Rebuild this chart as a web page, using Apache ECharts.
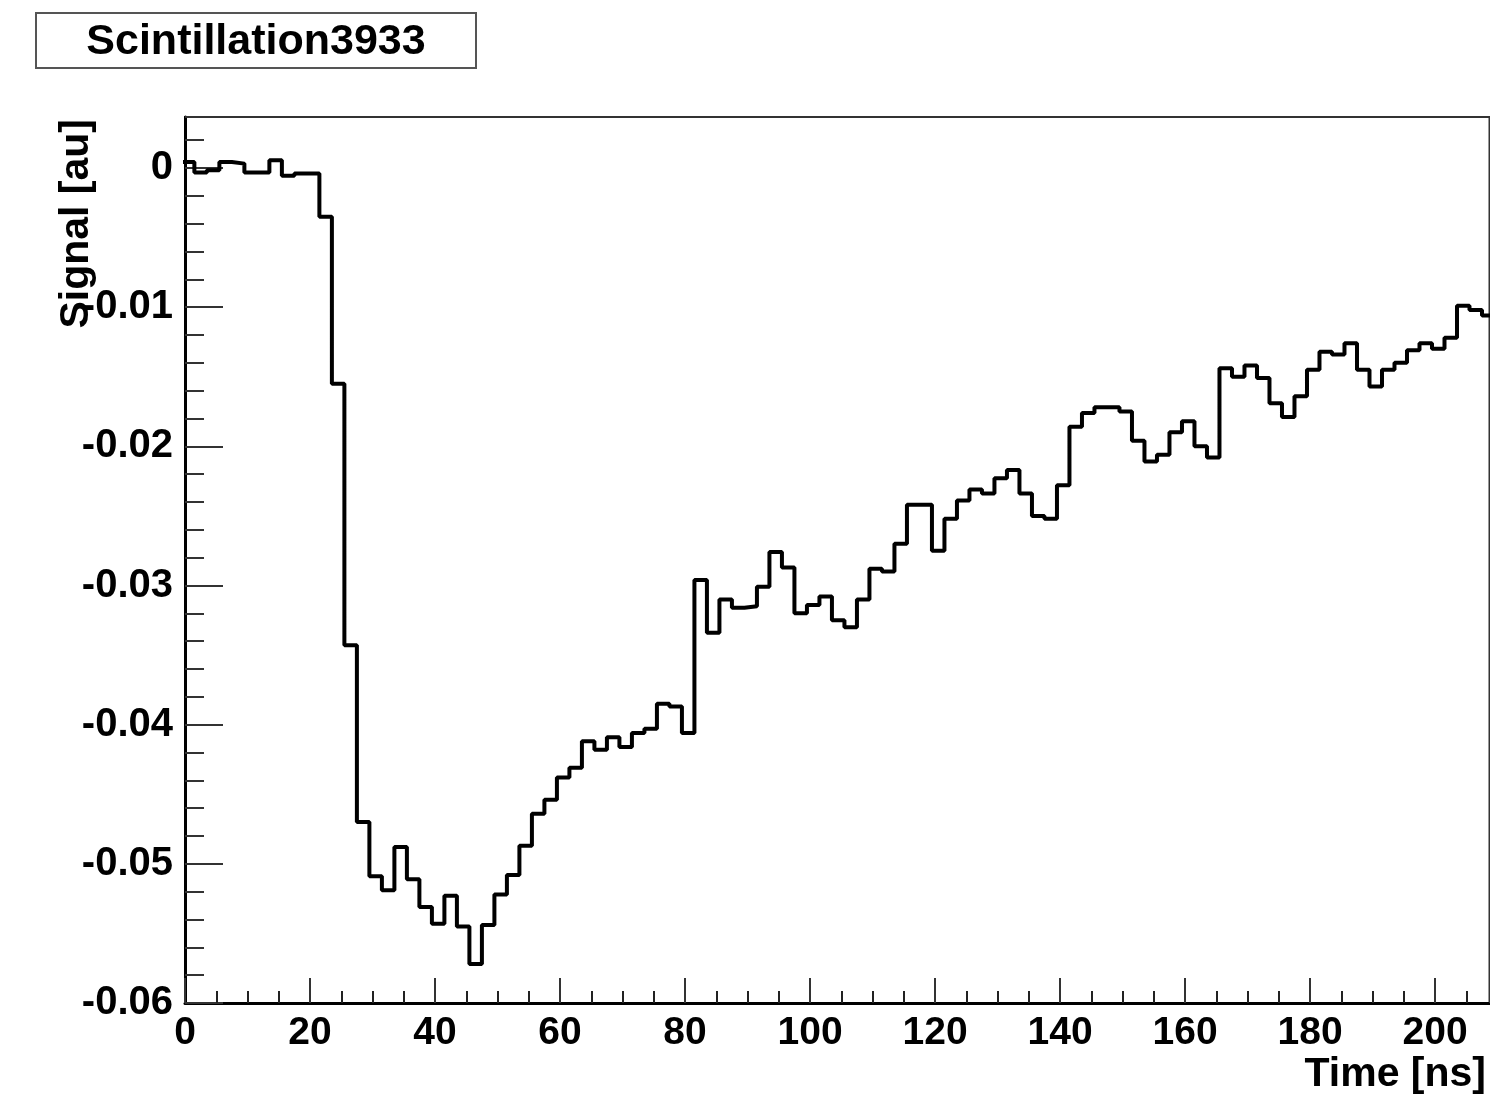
<!DOCTYPE html>
<html>
<head>
<meta charset="utf-8">
<script src="https://cdn.jsdelivr.net/npm/echarts@6/dist/echarts.min.js"></script>
<style>
  html, body { margin: 0; padding: 0; background: #ffffff; }
  #chart { width: 1490px; height: 1095px; }
</style>
</head>
<body>
<div id="chart"></div>
<script>
// Histogram title and axis titles
const histTitle = 'Scintillation3933';
const xTitle = 'Time [ns]';
const yTitle = 'Signal [au]';

// Binning of the waveform histogram (ns)
const binStart = -0.5;
const binWidth = 2;

// Signal content of each bin [au]
const binValues = [
  0.00043, -0.00033, -0.00017, 0.00043, 0.00031, -0.00033, -0.00033, 0.00055, -0.00057, -0.00040,
  -0.00040, -0.0035, -0.0155, -0.0343, -0.0470, -0.0509, -0.0519, -0.0488, -0.0511, -0.0531,
  -0.0543, -0.0523, -0.0545, -0.0572, -0.0544, -0.0522, -0.0508, -0.0487, -0.0464, -0.0454,
  -0.0438, -0.0431, -0.0412, -0.0418, -0.0409, -0.0416, -0.0406, -0.0403, -0.0385, -0.0387,
  -0.0406, -0.0296, -0.0334, -0.0310, -0.0316, -0.0315, -0.0301, -0.0276, -0.0287, -0.0320,
  -0.0314, -0.0308, -0.0325, -0.0330, -0.0310, -0.0288, -0.0290, -0.0270, -0.0242, -0.0242,
  -0.0275, -0.0252, -0.0239, -0.0231, -0.0234, -0.0223, -0.0217, -0.0234, -0.0250, -0.0252,
  -0.0228, -0.0186, -0.0176, -0.0172, -0.0172, -0.0175, -0.0196, -0.0211, -0.0206, -0.0190,
  -0.0182, -0.0200, -0.0208, -0.0144, -0.0150, -0.0142, -0.0151, -0.0169, -0.0179, -0.0164,
  -0.0145, -0.0132, -0.0134, -0.0126, -0.0145, -0.0157, -0.0145, -0.0140, -0.0131, -0.0126,
  -0.0130, -0.0122, -0.0099, -0.0102, -0.0106
];

// Axis ranges and tick steps
const xRange = [0, 208.7];
const yRange = [-0.06, 0.00366];
const xTickStep = 20;
const yTickStep = 0.01;

// Each bin becomes a point at its lower edge; the last upper edge closes the step line
const stepPoints = binValues.map((v, k) => [binStart + k * binWidth, v]);
stepPoints.push([binStart + binValues.length * binWidth, binValues[binValues.length - 1]]);

const FONT = '"Liberation Sans", Arial, Helvetica, sans-serif';

const chart = echarts.init(document.getElementById('chart'), null, { renderer: 'canvas' });

chart.setOption({
  animation: false,
  backgroundColor: '#ffffff',
  grid: {
    left: 185,
    right: 0.5,
    top: 117,
    bottom: 92,
    show: true,
    borderColor: '#333333',
    borderWidth: 2,
    backgroundColor: 'transparent'
  },
  xAxis: {
    type: 'value',
    min: xRange[0],
    max: xRange[1],
    interval: xTickStep,
    axisLine: { show: true, onZero: false, lineStyle: { color: '#000000', width: 3 } },
    axisTick: { show: true, inside: true, length: 25, lineStyle: { color: '#333333', width: 2 } },
    minorTick: { show: true, splitNumber: 4, length: 12, lineStyle: { color: '#222222', width: 2 } },
    splitLine: { show: false },
    axisLabel: {
      show: true,
      margin: 11,
      showMaxLabel: false,
      color: '#000000',
      fontFamily: FONT,
      fontWeight: 'bold',
      fontSize: 39
    }
  },
  yAxis: {
    type: 'value',
    min: yRange[0],
    max: yRange[1],
    interval: yTickStep,
    axisLine: { show: true, onZero: false, lineStyle: { color: '#000000', width: 3 } },
    axisTick: { show: true, inside: true, length: 38, lineStyle: { color: '#333333', width: 2 } },
    minorTick: { show: true, splitNumber: 5, length: 19, lineStyle: { color: '#333333', width: 2 } },
    splitLine: { show: false },
    axisLabel: {
      show: true,
      margin: 12,
      showMaxLabel: false,
      color: '#000000',
      fontFamily: FONT,
      fontWeight: 'bold',
      fontSize: 40,
      padding: [6, 0, 0, 0]
    }
  },
  series: [{
    type: 'line',
    step: 'end',
    data: stepPoints,
    showSymbol: false,
    clip: true,
    lineStyle: { color: '#000000', width: 4 },
    emphasis: { disabled: true }
  }],
  graphic: [
    {
      type: 'rect',
      shape: { x: 36, y: 13, width: 440, height: 55 },
      style: { fill: '#ffffff', stroke: '#555555', lineWidth: 2 },
      z: 10
    },
    {
      type: 'text',
      x: 256,
      y: 42,
      style: {
        text: histTitle,
        fill: '#000000',
        font: 'bold 43px ' + FONT,
        align: 'center',
        verticalAlign: 'middle'
      },
      z: 11
    },
    {
      type: 'text',
      x: 1486,
      y: 1075,
      style: {
        text: xTitle,
        fill: '#000000',
        font: 'bold 41px ' + FONT,
        align: 'right',
        verticalAlign: 'middle'
      },
      z: 11
    },
    {
      type: 'text',
      x: 77,
      y: 119,
      rotation: Math.PI / 2,
      style: {
        text: yTitle,
        fill: '#000000',
        font: 'bold 41px ' + FONT,
        align: 'right',
        verticalAlign: 'middle'
      },
      z: 11
    }
  ]
});
</script>
</body>
</html>
